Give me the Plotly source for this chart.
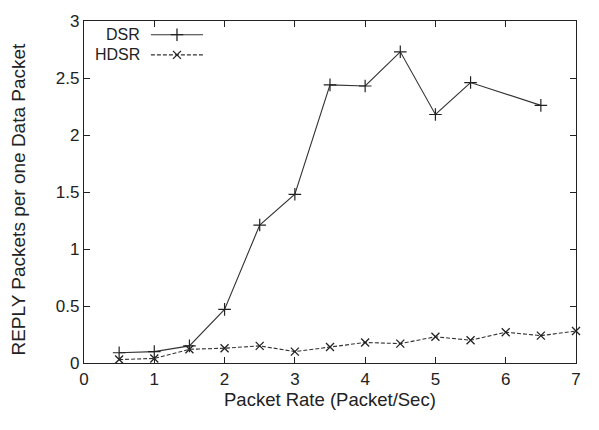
import plotly.graph_objects as go

rate = [0.5, 1, 1.5, 2, 2.5, 3, 3.5, 4, 4.5, 5, 5.5, 6, 6.5, 7]
dsr_x = [0.5, 1, 1.5, 2, 2.5, 3, 3.5, 4, 4.5, 5, 5.5, 6.5]
dsr_y = [0.09, 0.10, 0.15, 0.47, 1.21, 1.48, 2.44, 2.43, 2.73, 2.18, 2.46, 2.26]
hdsr_y = [0.03, 0.04, 0.12, 0.13, 0.15, 0.10, 0.14, 0.18, 0.17, 0.23, 0.20, 0.27, 0.24, 0.28]
series_names = ["DSR", "HDSR"]
x_ticks = [0, 1, 2, 3, 4, 5, 6, 7]
y_ticks = [0, 0.5, 1, 1.5, 2, 2.5, 3]
y_tick_labels = ["0", "0.5", "1", "1.5", "2", "2.5", "3"]
x_title = "Packet Rate (Packet/Sec)"
y_title = "REPLY Packets per one Data Packet"

FONT = "Liberation Sans, Arial, sans-serif"
INK = "#222222"

fig = go.Figure()
fig.add_trace(go.Scatter(
    x=dsr_x, y=dsr_y, mode="lines+markers", name=series_names[0],
    line=dict(color="#333333", width=1.1),
    marker=dict(symbol="cross-thin", size=9, line=dict(color="#222222", width=1.2)),
    showlegend=False, cliponaxis=False))
fig.add_trace(go.Scatter(
    x=rate, y=hdsr_y, mode="lines+markers", name=series_names[1],
    line=dict(color="#333333", width=1.1, dash="4px,2px"),
    marker=dict(symbol="x-thin", size=8, line=dict(color="#222222", width=1.3)),
    showlegend=False, cliponaxis=False))

# legend samples (overlay axes in [0,1] units)
leg_x = [0.136, 0.242]
leg_y = [0.960, 0.901]
for i, nm in enumerate(series_names):
    fig.add_trace(go.Scatter(
        x=leg_x, y=[leg_y[i]] * 2, mode="lines", xaxis="x2", yaxis="y2",
        line=dict(color="#333333", width=1.1, dash=("solid" if i == 0 else "4px,2px")),
        showlegend=False, hoverinfo="skip"))
    fig.add_trace(go.Scatter(
        x=[sum(leg_x) / 2], y=[leg_y[i]], mode="markers", xaxis="x2", yaxis="y2",
        marker=dict(symbol=("cross-thin" if i == 0 else "x-thin"), size=(9 if i == 0 else 8),
                    line=dict(color="#222222", width=1.3)),
        showlegend=False, hoverinfo="skip"))
    fig.add_annotation(x=0.116, y=leg_y[i], xref="x2", yref="y2",
                       text=nm, showarrow=False, xanchor="right", yanchor="middle",
                       borderpad=0,
                       font=dict(family=FONT, size=16, color=INK))

# axis titles
fig.add_annotation(x=0.501, y=-0.107, xref="paper", yref="paper", text=x_title,
                   showarrow=False, xanchor="center", yanchor="middle",
                   font=dict(family=FONT, size=18.5, color=INK))
fig.add_annotation(x=(19 - 84) / 492, y=0.478, xref="paper", yref="paper", text=y_title,
                   textangle=-90, showarrow=False, xanchor="center", yanchor="middle",
                   font=dict(family=FONT, size=19, color=INK))

fig.update_layout(
    width=599, height=430,
    margin=dict(l=84, r=23, t=17, b=67),
    paper_bgcolor="white", plot_bgcolor="white",
    font=dict(family=FONT, size=15, color=INK),
    xaxis=dict(range=[0, 7], tickvals=x_ticks, ticks="inside", ticklen=6, tickcolor=INK,
               showline=True, linecolor=INK, linewidth=1.2, mirror="ticks",
               showgrid=False, zeroline=False, tickfont=dict(size=17)),
    yaxis=dict(range=[0, 3], tickvals=y_ticks, ticktext=y_tick_labels, ticks="inside", ticklen=6,
               tickcolor=INK, showline=True, linecolor=INK, linewidth=1.2, mirror="ticks",
               showgrid=False, zeroline=False, tickfont=dict(size=17)),
    xaxis2=dict(range=[0, 1], overlaying="x", visible=False, fixedrange=True),
    yaxis2=dict(range=[0, 1], overlaying="y", visible=False, fixedrange=True),
)

fig.write_html("out.html")
